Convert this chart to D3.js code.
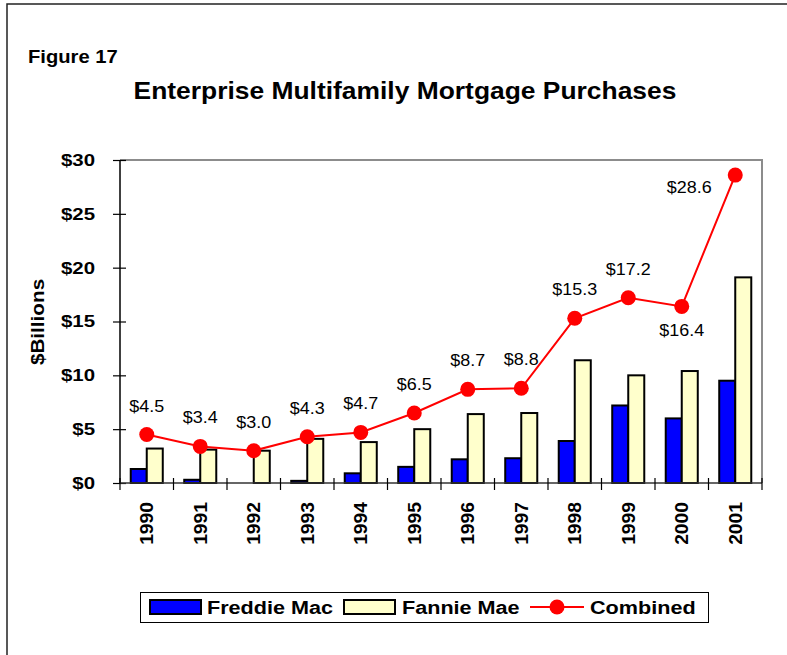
<!DOCTYPE html>
<html>
<head>
<meta charset="utf-8">
<script src="https://cdn.jsdelivr.net/npm/d3@7"></script>
<style>
  body { margin: 0; background: #fff; }
  text { font-family: "Liberation Sans", Arial, sans-serif; }
</style>
</head>
<body>
<div id="chart"></div>
<script>
// data ($ billions)
var years = ["1990", "1991", "1992", "1993", "1994", "1995", "1996", "1997", "1998", "1999", "2000", "2001"];
var freddieMac = [1.3, 0.3, 0.0, 0.2, 0.9, 1.5, 2.2, 2.3, 3.9, 7.2, 6.0, 9.5];
var fannieMae = [3.2, 3.1, 3.0, 4.1, 3.8, 5.0, 6.4, 6.5, 11.4, 10.0, 10.4, 19.1];
var combined = [4.5, 3.4, 3.0, 4.3, 4.7, 6.5, 8.7, 8.8, 15.3, 17.2, 16.4, 28.6];
var yTicks = [0, 5, 10, 15, 20, 25, 30];

var outterWidth = 787;
var outterHeight = 655;
var plot = {left: 120, right: 762, top: 160, bottom: 483};

// the original text is a bit wider than Arial at the same height
function widen(sel, k) {
  sel.each(function () {
    var w = this.getComputedTextLength();
    d3.select(this).attr("textLength", w * k).attr("lengthAdjust", "spacingAndGlyphs");
  });
}

var svg = d3.select("#chart").append("svg")
  .attr("width", outterWidth)
  .attr("height", outterHeight);

svg.append("rect").attr("width", outterWidth).attr("height", outterHeight).attr("fill", "#fff");

// outer frame (only top and left show)
svg.append("path")
  .attr("d", "M7," + outterHeight + "V4H" + outterWidth)
  .attr("fill", "none").attr("stroke", "#222").attr("stroke-width", 1.5);

svg.append("text")
  .attr("x", 28).attr("y", 63)
  .attr("font-size", "18px").attr("font-weight", "bold")
  .text("Figure 17")
  .call(widen, 1.12);

svg.append("text")
  .attr("x", 405).attr("y", 99)
  .attr("text-anchor", "middle")
  .attr("font-size", "24px").attr("font-weight", "bold")
  .text("Enterprise Multifamily Mortgage Purchases")
  .call(widen, 1.1);

var x = d3.scaleBand().domain(years).range([plot.left, plot.right]);
var xSeries = d3.scaleBand().domain(["freddie", "fannie"]).range([0, x.bandwidth()]).paddingOuter(0.67);
var y = d3.scaleLinear().domain([0, 30]).range([plot.bottom, plot.top]);

// plot frame: grey top/right
svg.append("path")
  .attr("d", "M" + plot.left + "," + plot.top + "H" + plot.right + "V" + plot.bottom)
  .attr("fill", "none").attr("stroke", "#8c8c8c").attr("stroke-width", 2);

// bars
var groups = svg.append("g").selectAll("g")
  .data(years)
  .join("g")
  .attr("transform", function (d) { return "translate(" + x(d) + ",0)"; });

groups.append("rect")
  .attr("x", xSeries("freddie"))
  .attr("width", xSeries.bandwidth())
  .attr("y", function (d, i) { return y(freddieMac[i]); })
  .attr("height", function (d, i) { return y(0) - y(freddieMac[i]); })
  .attr("fill", "#0000ff").attr("stroke", "#000").attr("stroke-width", 2);

groups.append("rect")
  .attr("x", xSeries("fannie"))
  .attr("width", xSeries.bandwidth())
  .attr("y", function (d, i) { return y(fannieMae[i]); })
  .attr("height", function (d, i) { return y(0) - y(fannieMae[i]); })
  .attr("fill", "#ffffcc").attr("stroke", "#000").attr("stroke-width", 2);

// y axis
var yAxis = svg.append("g")
  .attr("transform", "translate(" + plot.left + ",0)")
  .call(d3.axisLeft(y).tickValues(yTicks).tickSize(7).tickPadding(18).tickFormat(function (d) { return "$" + d; }));
yAxis.select(".domain").attr("stroke", "#000").attr("stroke-width", 1.5).attr("d", "M0," + plot.top + "V" + plot.bottom);
yAxis.selectAll(".tick line").attr("x1", 6).attr("x2", -7).attr("stroke", "#000").attr("stroke-width", 1.2);
yAxis.selectAll(".tick text")
  .attr("font-size", "17px").attr("font-weight", "bold").attr("fill", "#000")
  .attr("font-family", "'Liberation Sans', Arial, sans-serif")
  .call(widen, 1.2);

// x axis, ticks at category edges
var xAxis = svg.append("g")
  .attr("transform", "translate(0," + plot.bottom + ")");
xAxis.append("line")
  .attr("x1", plot.left).attr("x2", plot.right)
  .attr("stroke", "#333").attr("stroke-width", 1.5);
xAxis.selectAll("line.edge")
  .data(years.concat(["end"]))
  .join("line").attr("class", "edge")
  .attr("x1", function (d) { return d === "end" ? plot.right : x(d); })
  .attr("x2", function (d) { return d === "end" ? plot.right : x(d); })
  .attr("y1", -5).attr("y2", 7)
  .attr("stroke", "#000").attr("stroke-width", 1.2);
xAxis.selectAll("text")
  .data(years)
  .join("text")
  .attr("transform", function (d) { return "translate(" + (x(d) + x.bandwidth() / 2) + ",19) rotate(-90)"; })
  .attr("text-anchor", "end")
  .attr("dy", "0.35em")
  .attr("font-size", "18px").attr("font-weight", "bold")
  .text(function (d) { return d; })
  .call(widen, 1.07);

svg.append("text")
  .attr("transform", "translate(38,322) rotate(-90)")
  .attr("text-anchor", "middle")
  .attr("dy", "0.35em")
  .attr("font-size", "18px").attr("font-weight", "bold")
  .text("$Billions")
  .call(widen, 1.15);

// combined line
var cx = function (i) { return x(years[i]) + x.bandwidth() / 2; };
var line = d3.line()
  .x(function (d, i) { return cx(i); })
  .y(function (d) { return y(d); });

svg.append("path")
  .datum(combined)
  .attr("d", line)
  .attr("fill", "none").attr("stroke", "#ff0000").attr("stroke-width", 2);

svg.append("g").selectAll("circle")
  .data(combined)
  .join("circle")
  .attr("cx", function (d, i) { return cx(i); })
  .attr("cy", function (d) { return y(d); })
  .attr("r", 7.5)
  .attr("fill", "#ff0000");

// value labels: most sit above, 2000 below, 2001 to the left
svg.append("g").selectAll("text")
  .data(combined)
  .join("text")
  .attr("x", function (d, i) { return years[i] === "2001" ? cx(i) - 46 : cx(i); })
  .attr("y", function (d, i) {
    if (years[i] === "2000") return y(d) + 30;
    if (years[i] === "2001") return y(d) + 18;
    return y(d) - 23;
  })
  .attr("text-anchor", "middle")
  .attr("font-size", "16px")
  .text(function (d) { return "$" + d.toFixed(1); })
  .call(widen, 1.12);

// legend
var legend = svg.append("g");
legend.append("rect")
  .attr("x", 140.5).attr("y", 592.5).attr("width", 568).attr("height", 30)
  .attr("fill", "#fff").attr("stroke", "#000").attr("stroke-width", 1);

legend.append("rect")
  .attr("x", 150).attr("y", 600).attr("width", 51).attr("height", 14)
  .attr("fill", "#0000ff").attr("stroke", "#000").attr("stroke-width", 2);
legend.append("text")
  .attr("x", 207).attr("y", 614)
  .attr("font-size", "18px").attr("font-weight", "bold")
  .text("Freddie Mac")
  .call(widen, 1.2);

legend.append("rect")
  .attr("x", 344).attr("y", 600).attr("width", 51).attr("height", 14)
  .attr("fill", "#ffffcc").attr("stroke", "#000").attr("stroke-width", 2);
legend.append("text")
  .attr("x", 402).attr("y", 614)
  .attr("font-size", "18px").attr("font-weight", "bold")
  .text("Fannie Mae")
  .call(widen, 1.2);

legend.append("line")
  .attr("x1", 530).attr("x2", 584).attr("y1", 607).attr("y2", 607)
  .attr("stroke", "#ff0000").attr("stroke-width", 2);
legend.append("circle")
  .attr("cx", 557).attr("cy", 607).attr("r", 7.5).attr("fill", "#ff0000");
legend.append("text")
  .attr("x", 590).attr("y", 614)
  .attr("font-size", "18px").attr("font-weight", "bold")
  .text("Combined")
  .call(widen, 1.2);
</script>
</body>
</html>
